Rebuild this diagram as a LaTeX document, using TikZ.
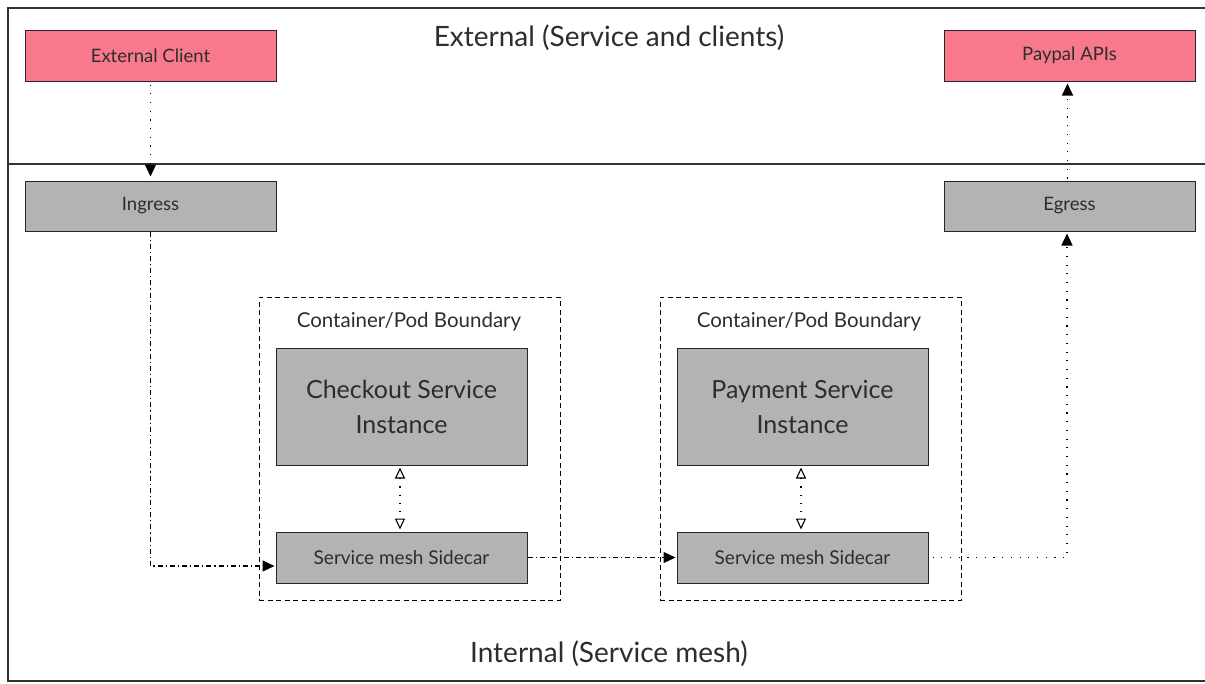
\documentclass[tikz,border=0pt]{standalone}
\usepackage{fontspec}
\setmainfont{Lato}
\usetikzlibrary{arrows.meta}
\definecolor{pinkbox}{RGB}{247,121,139}
\definecolor{graybox}{RGB}{179,179,179}
\definecolor{txt}{RGB}{45,45,45}
\tikzset{
  box/.style={draw=black!85, line width=1pt, minimum width=251pt, inner sep=0pt, text=txt},
  extbox/.style={box, fill=pinkbox, minimum height=51pt, font=\fontsize{18.5}{20}\selectfont},
  gbox/.style={box, fill=graybox, minimum height=50pt, font=\fontsize{18.5}{20}\selectfont},
  svcbox/.style={box, fill=graybox, minimum height=117pt, align=center, font=\fontsize{25}{35}\selectfont},
  carbox/.style={box, fill=graybox, minimum height=51pt, font=\fontsize{19}{21}\selectfont},
  podbox/.style={draw=black, line width=1pt, dash pattern=on 5pt off 3.5pt, minimum width=301pt, minimum height=303pt, inner sep=0pt},
  podlabel/.style={font=\fontsize{20.5}{22}\selectfont, text=txt},
  zone/.style={font=\fontsize{28}{30}\selectfont, text=txt},
  dotline/.style={line width=1.2pt, dash pattern=on 1.2pt off 7.5pt, -{Triangle[length=12pt,width=11pt]}},
  dashdot/.style={line width=1.2pt, dash pattern=on 5pt off 3pt on 1.2pt off 3pt, -{Triangle[length=12pt,width=11pt]}},
  biarrow/.style={line width=1.1pt, dash pattern=on 1.2pt off 7pt, {Triangle[open,length=11pt,width=10pt]}-{Triangle[open,length=11pt,width=10pt]}},
}
\begin{document}
\begin{tikzpicture}[x=1pt,y=-1pt]
\clip (0,0) rectangle (1205,683);
\fill[white] (0,0) rectangle (1205,683);
% frame
\draw[line width=1.2pt, draw=black!80] (8,8) rectangle (1210,681);
\draw[line width=1.2pt, draw=black!80] (8,164) -- (1210,164);
% zone titles
\node[zone] (exttitle) at (609,38) {External (Service and clients)};
\node[zone] (inttitle) at (609,654) {Internal (Service mesh)};
% pod boundaries
\node[podbox] (pod1) at (409.5,448.5) {};
\node[podbox] (pod2) at (810.5,448.5) {};
\node[podlabel] (pod1lab) at (409,322) {Container/Pod Boundary};
\node[podlabel] (pod2lab) at (809,322) {Container/Pod Boundary};
% boxes
\node[extbox] (client) at (150.5,55.5) {External Client};
\node[extbox] (paypal) at (1069.5,55.5) {Paypal APIs};
\node[gbox] (ingress) at (150.5,206) {Ingress};
\node[gbox] (egress) at (1069.5,206) {Egress};
\node[svcbox] (checkout) at (401.5,406.5) {Checkout Service\\Instance};
\node[svcbox] (payment) at (802.5,406.5) {Payment Service\\Instance};
\node[carbox] (car1) at (401.5,557.5) {Service mesh Sidecar};
\node[carbox] (car2) at (802.5,557.5) {Service mesh Sidecar};
% connectors
\draw[dotline, shorten <=3pt, shorten >=4pt] (client.south) -- (ingress.north);
\draw[dotline, shorten <=2pt, shorten >=2pt] ([xshift=-2pt]egress.north) -- ([xshift=-2pt]paypal.south);
\draw[dashdot, shorten >=1pt] (ingress.south) |- ([yshift=-8.5pt]car1.west);
\draw[dashdot, shorten >=1pt] (car1.east) -- (car2.west);
\coordinate (turn) at (1067,557.5);
\draw[dotline, shorten <=4pt, shorten >=2pt] (car2.east) -- (turn) -- ([xshift=-2.5pt]egress.south);
\draw[biarrow, shorten <=2pt, shorten >=2pt] ([xshift=-1.5pt]checkout.south) -- ([xshift=-1.5pt]car1.north);
\draw[biarrow, shorten <=2pt, shorten >=2pt] ([xshift=-1.5pt]payment.south) -- ([xshift=-1.5pt]car2.north);
\end{tikzpicture}
\end{document}
